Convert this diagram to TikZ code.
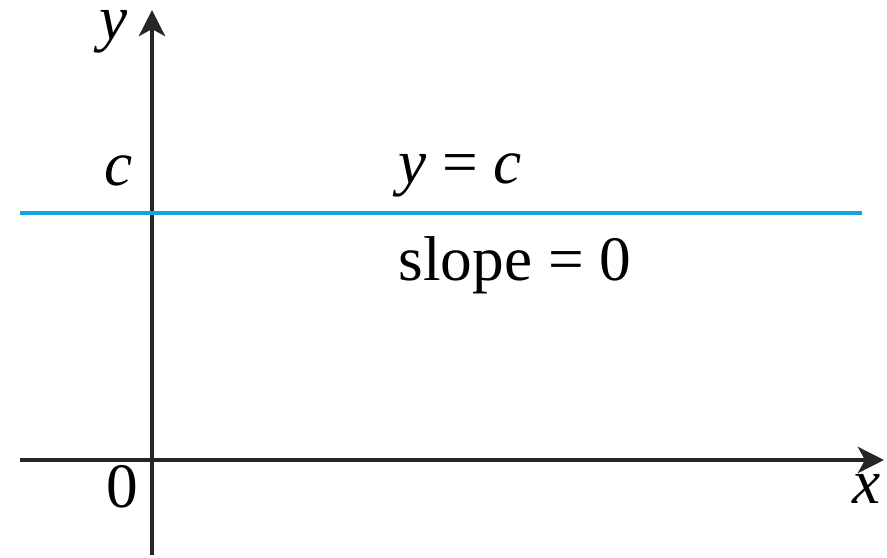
\documentclass[tikz,border=0pt]{standalone}
\usepackage{fontspec}
\setmainfont{Liberation Serif}
\usetikzlibrary{arrows.meta}
\definecolor{lineblue}{RGB}{20,165,225}
\tikzset{
  axis/.style={line width=0.045cm, black!85, -{Stealth[length=2.6mm,width=2.6mm,inset=0.7mm]}},
  lbl/.style={anchor=base, inner sep=0pt, font=\fontsize{18}{21}\selectfont},
}
\begin{document}
\begin{tikzpicture}[x=0.01cm,y=-0.01cm]
\useasboundingbox (0,0) rectangle (887,557);
% axes
\coordinate (xs) at (20,460);
\coordinate (xe) at (884,460);
\coordinate (ys) at (152,555);
\coordinate (ye) at (152,10);
\draw[axis] (xs) -- (xe);
\draw[axis] (ys) -- (ye);
% horizontal line
\coordinate (ls) at (20,213);
\coordinate (le) at (862,213);
\draw[line width=0.045cm, lineblue] (ls) -- (le);
% labels
\node[lbl] (ylab) at (114,39) {\textit{y}};
\node[lbl] (xlab) at (867,503) {\textit{x}};
\node[lbl] (clab) at (119,185) {\textit{c}};
\node[lbl] (zero) at (122,507) {0};
\node[lbl] (eq) at (460,183) {\textit{y} = \textit{c}};
\node[lbl] (slope) at (515,280) {slope = 0};
\end{tikzpicture}
\end{document}
